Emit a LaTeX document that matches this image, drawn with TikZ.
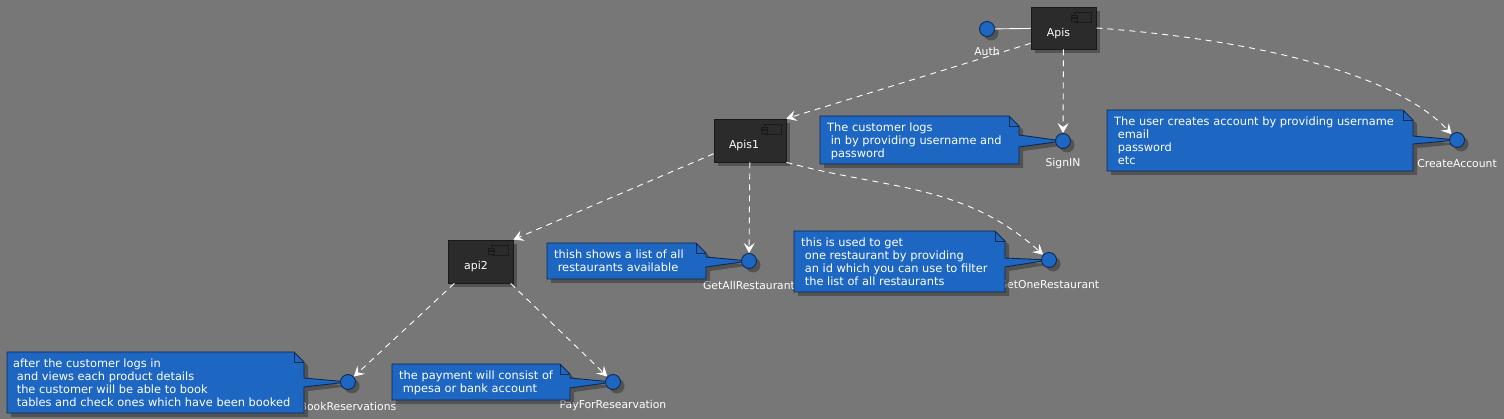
\documentclass[tikz,border=0pt]{standalone}
\usepackage{fontspec}
\setmainfont{DejaVu Sans}
\usetikzlibrary{arrows.meta,shadows,calc}
\definecolor{bgc}{HTML}{777777}
\definecolor{compfill}{HTML}{2B2B2B}
\definecolor{compline}{HTML}{1A1A1A}
\definecolor{blu}{HTML}{1D66C2}
\definecolor{bluedge}{HTML}{0E2A4D}
\pgfdeclarelayer{bg}
\pgfdeclarelayer{lbl}
\pgfdeclarelayer{notes}
\pgfsetlayers{bg,lbl,notes,main}
\newcommand\ind{\hspace*{3.6pt}}
\tikzset{
  shd/.style={drop shadow={shadow xshift=4pt,shadow yshift=-4pt,opacity=.3,fill=black}},
  comp/.style={draw=compline, fill=compfill, line width=.8pt, inner sep=0pt, shd},
  complabel/.style={text=white, font=\fontsize{10.9}{13}\selectfont, inner sep=0pt},
  icon/.style={draw=compline, fill=compfill, line width=.8pt},
  iface/.style={circle, draw=bluedge, fill=blu, minimum size=15pt, inner sep=0pt, line width=.9pt, shd},
  ilabel/.style={text=white, font=\fontsize{10.8}{13}\selectfont, inner sep=0pt},
  dep/.style={draw=white, line width=.9pt, dash pattern=on 6pt off 5pt, -{Stealth[length=10pt,width=11pt,inset=4pt]}},
  link/.style={draw=white, line width=.9pt},
  notebody/.style={fill=blu, draw=bluedge, line width=.9pt, shd},
  notefold/.style={draw=bluedge, line width=.9pt},
  notetext/.style={text=white, font=\fontsize{11.4}{13}\selectfont, align=left, inner sep=0pt, anchor=north west},
}
% #1 L, #2 T, #3 R, #4 B, #5 py1, #6 py2, #7 target node
\newcommand\umlnote[7]{%
  \path[notebody] (#1,#2) -- (#3-10,#2) -- (#3,#2+10) -- (#3,#5) -- (#7.center) -- (#3,#6) -- (#3,#4) -- (#1,#4) -- cycle;
  \draw[notefold] (#3-10,#2) -- (#3-10,#2+10) -- (#3,#2+10);
}
\newcommand\compicon[1]{%
  \draw[icon] ($(#1.north east)+(-22,5.5)$) rectangle +(17,10);
  \draw[icon] ($(#1.north east)+(-25,8.5)$) rectangle +(5.5,2.5);
  \draw[icon] ($(#1.north east)+(-25,12)$) rectangle +(5.5,2.5);
}
\begin{document}
\begin{tikzpicture}[x=1pt,y=-1pt]
\useasboundingbox (0,0) rectangle (1504,419);
\begin{pgfonlayer}{bg}
  \fill[bgc] (0,0) rectangle (1504,419);
\end{pgfonlayer}

% components
\node[comp, minimum width=65pt, minimum height=42pt] (apis) at (1063.5,28) {};
\node[comp, minimum width=72pt, minimum height=43pt] (apis1) at (750,140.5) {};
\node[comp, minimum width=65pt, minimum height=43pt] (api2) at (480.5,261.5) {};
\compicon{apis}
\compicon{apis1}
\compicon{api2}
\node[complabel] (apisl) at ($(apis)+(-5,5)$) {Apis};
\node[complabel] (apis1l) at ($(apis1)+(-6,5)$) {Apis1};
\node[complabel] (api2l) at ($(api2)+(-4.5,5)$) {api2};

% interfaces
\node[iface] (auth) at (987,29) {};
\node[iface] (signin) at (1063,141) {};
\node[iface] (create) at (1457,140) {};
\node[iface] (getall) at (749,261) {};
\node[iface] (getone) at (1049,260) {};
\node[iface] (book) at (348,382) {};
\node[iface] (pay) at (613,382) {};

\begin{pgfonlayer}{lbl}
  \node[ilabel] (authl) at ($(auth)+(0,22)$) {Auth};
  \node[ilabel] (signinl) at ($(signin)+(0,23)$) {SignIN};
  \node[ilabel] (createl) at ($(create)+(0,24)$) {CreateAccount};
  \node[ilabel] (getalll) at ($(getall)+(0,24)$) {GetAllRestaurant};
  \node[ilabel] (getonel) at ($(getone)+(0,25)$) {GetOneRestaurant};
  \node[ilabel] (bookl) at ($(book)+(0,24)$) {BookReservations};
  \node[ilabel] (payl) at ($(pay)+(0,24)$) {PayForResearvation};
\end{pgfonlayer}

% notes
\begin{pgfonlayer}{notes}
  \umlnote{820}{116}{1019}{164}{135}{147}{signin}
  \node[notetext] (n1) at (827,122) {\strut The customer logs\\\ind in by providing username and\\\ind password};
  \umlnote{1107}{110}{1413}{171}{136}{144}{create}
  \node[notetext] (n2) at (1114,116) {\strut The user creates account by providing username\\\ind email\\\ind password\\\ind etc};
  \umlnote{547}{243}{706}{279}{257}{267}{getall}
  \node[notetext] (n3) at (554,249) {\strut thish shows a list of all\\\ind restaurants available};
  \umlnote{794}{231}{1005}{292}{258}{267}{getone}
  \node[notetext] (n4) at (801,237) {\strut this is used to get\\\ind one restaurant by providing\\\ind an id which you can use to filter\\\ind the list of all restaurants};
  \umlnote{7}{352}{304}{413}{378}{387}{book}
  \node[notetext] (n5) at (13,358) {\strut after the customer logs in\\\ind and views each product details\\\ind the customer will be able to book\\\ind tables and check ones which have been booked};
  \umlnote{392}{364}{570}{400}{378}{388}{pay}
  \node[notetext] (n6) at (399,370) {\strut the payment will consist of\\\ind mpesa or bank account};
\end{pgfonlayer}

% connectors
\draw[link] (auth) -- (apis);
\draw[dep] (apis.205) -- (apis1.north east);
\draw[dep] (apis) -- (signin);
\draw[dep] (apis.east) to[out=-4,in=133,looseness=0.7] (create);
\draw[dep] (apis1.200) -- (api2.north east);
\draw[dep] (apis1) -- (getall);
\draw[dep] (apis1.south east) to[out=-15,in=138] (getone);
\draw[dep] (api2.220) -- (book);
\draw[dep] (api2.-36) -- (pay);
\end{tikzpicture}
\end{document}
